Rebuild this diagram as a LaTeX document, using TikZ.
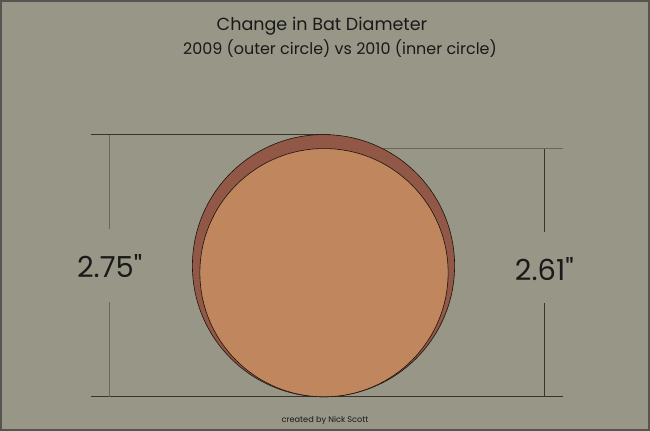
\documentclass[tikz,border=0pt]{standalone}
\usepackage{fontspec}
\setmainfont{Poppins}
\newfontfamily\numfont{Poppins}[Ligatures=TeXOff]
\begin{document}
\begin{tikzpicture}[x=1pt,y=-1pt,
  dimline/.style={draw=black!80!olive, line width=1.1pt},
  dimgray/.style={draw=black!55!olive!60!gray, line width=1.6pt},
  ring/.style={draw=black!85!brown, line width=0.6pt},
  lbl/.style={inner sep=0pt, text=black!90},
]
\fill[fill={rgb,255:red,152;green,150;blue,134}] (0,0) rectangle (650,430);
\draw[draw={rgb,255:red,85;green,85;blue,80}, line width=2pt] (0,0) rectangle (650,430);
\useasboundingbox (0,0) rectangle (650,430);
% dimension lines
\coordinate (tl) at (90,134);
\coordinate (tlend) at (330,134);
\coordinate (bl) at (90,397);
\coordinate (blend) at (564,397);
\coordinate (trs) at (324,148);
\coordinate (tre) at (564,148);
\coordinate (lv1) at (109,134);
\coordinate (lv2) at (109,229);
\coordinate (lv3) at (109,302);
\coordinate (lv4) at (109,397);
\coordinate (rv1) at (545,148);
\coordinate (rv2) at (545,232);
\coordinate (rv3) at (545,303);
\coordinate (rv4) at (545,397);
\draw[dimline] (tl) -- (tlend);
\draw[dimline] (bl) -- (blend);
\draw[dimgray] (trs) -- (tre);
\draw[dimgray] (lv1) -- (lv2);
\draw[dimgray] (lv3) -- (lv4);
\draw[dimline, line width=0.9pt] (rv1) -- (rv2);
\draw[dimline, line width=0.9pt] (rv3) -- (rv4);
% circles
\node[ring, circle, minimum size=263pt, inner sep=0pt, fill={rgb,255:red,145;green,88;blue,71}] (outer) at (323.5,265.5) {};
\node[ring, circle, minimum size=249pt, inner sep=0pt, fill={rgb,255:red,192;green,134;blue,94}] (inner) at (324,272.5) {};
% labels
\node[lbl, font=\fontsize{17.6}{20}\selectfont] (t1) at (322,25) {Change in Bat Diameter};
\node[lbl, font=\fontsize{16}{18}\selectfont] (t2) at (340,48) {2009 (outer circle) vs 2010 (inner circle)};
\node[lbl, font=\numfont\fontsize{29}{32}\selectfont] (d1) at (109,266) {2.75"};
\node[lbl, font=\numfont\fontsize{29}{32}\selectfont] (d2) at (545,269) {2.61"};
\node[lbl, font=\fontsize{8.2}{10}\selectfont] (cr) at (325,421) {created by Nick Scott};
\end{tikzpicture}
\end{document}
